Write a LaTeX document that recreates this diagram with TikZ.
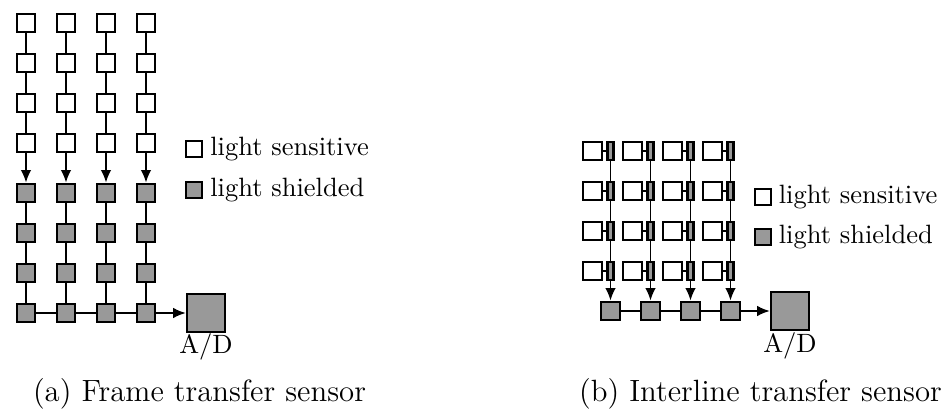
\documentclass[tikz,border=0pt]{standalone}
\usetikzlibrary{positioning,arrows.meta}

\tikzset{
  cell/.style={draw,line width=0.85pt,inner sep=0pt,minimum size=7.5pt},
  sensitive/.style={cell,fill=white},
  shielded/.style={cell,fill=black!40},
  slim/.style={shielded,minimum width=2.4pt,minimum height=7.5pt},
  wide/.style={sensitive,minimum width=7.8pt,minimum height=7.5pt},
  converter/.style={shielded,minimum size=15.4pt},
  keybox/.style={cell,minimum size=6.4pt},
  keytext/.style={anchor=west,inner sep=0pt,font=\fontsize{10.6pt}{12pt}\selectfont},
  captiontext/.style={inner sep=0pt,font=\fontsize{12.3pt}{15pt}\selectfont},
  chargeflow/.style={-{Latex[length=5pt,width=4.2pt]}},
  wire/.style={line width=0.6pt}
}

\begin{document}
\begin{tikzpicture}[x=0.4pt,y=-0.4pt,wire]
\useasboundingbox (0,0) rectangle (941,412);

% (a) frame transfer: four columns of eight cells
\newcommand{\ftcolumn}[2]{
\node[sensitive] (a#1r1) at (#2,23) {};
\node[sensitive] (a#1r2) at (#2,63) {};
\node[sensitive] (a#1r3) at (#2,103) {};
\node[sensitive] (a#1r4) at (#2,143) {};
\node[shielded] (a#1r5) at (#2,193) {};
\node[shielded] (a#1r6) at (#2,233) {};
\node[shielded] (a#1r7) at (#2,273) {};
\node[shielded] (a#1r8) at (#2,313) {};
\draw (a#1r1) -- (a#1r2);
\draw (a#1r2) -- (a#1r3);
\draw (a#1r3) -- (a#1r4);
\draw[chargeflow] (a#1r4) -- (a#1r5);
\draw (a#1r5) -- (a#1r6);
\draw (a#1r6) -- (a#1r7);
\draw (a#1r7) -- (a#1r8);
}

\ftcolumn{1}{26}
\ftcolumn{2}{66}
\ftcolumn{3}{106}
\ftcolumn{4}{146}

\node[converter] (adA) at (206,313) {};
\node[font=\fontsize{10.6pt}{12pt}\selectfont] (adAlabel) at (206,347) {A/D};
\draw (a1r8) -- (a2r8);
\draw (a2r8) -- (a3r8);
\draw (a3r8) -- (a4r8);
\draw[chargeflow] (a4r8) -- (adA);

\node[keybox,fill=white] (keyAs) at (194,149) {};
\node[keybox,fill=black!40] (keyAh) at (194,190) {};
\node[keytext,right=2.6pt of keyAs] (keyAstext) {light sensitive};
\node[keytext,right=2.6pt of keyAh] (keyAhtext) {light shielded};

\node[captiontext] (capA) at (199.5,394) {(a) Frame transfer sensor};

% (b) interline transfer: pixel + shielded strip per site
\newcommand{\itcolumn}[3]{
\node[wide] (b#1w1) at (#2,151) {};
\node[wide] (b#1w2) at (#2,191) {};
\node[wide] (b#1w3) at (#2,231) {};
\node[wide] (b#1w4) at (#2,271) {};
\node[slim] (b#1g1) at (#3,151) {};
\node[slim] (b#1g2) at (#3,191) {};
\node[slim] (b#1g3) at (#3,231) {};
\node[slim] (b#1g4) at (#3,271) {};
\node[shielded] (b#1s) at (#3,311) {};
\draw (b#1w1) -- (b#1g1);
\draw (b#1w2) -- (b#1g2);
\draw (b#1w3) -- (b#1g3);
\draw (b#1w4) -- (b#1g4);
\draw (b#1g1) -- (b#1g2);
\draw (b#1g2) -- (b#1g3);
\draw (b#1g3) -- (b#1g4);
\draw[chargeflow] (b#1g4) -- (b#1s);
}

\itcolumn{1}{592.5}{610.5}
\itcolumn{2}{632.5}{650.5}
\itcolumn{3}{672.5}{690.5}
\itcolumn{4}{712.5}{730.5}

\node[converter] (adB) at (790,311) {};
\node[font=\fontsize{10.6pt}{12pt}\selectfont] (adBlabel) at (790,346) {A/D};
\draw (b1s) -- (b2s);
\draw (b2s) -- (b3s);
\draw (b3s) -- (b4s);
\draw[chargeflow] (b4s) -- (adB);

\node[keybox,fill=white] (keyBs) at (763,197) {};
\node[keybox,fill=black!40] (keyBh) at (763,237) {};
\node[keytext,right=2.4pt of keyBs] (keyBstext) {light sensitive};
\node[keytext,right=2.4pt of keyBh] (keyBhtext) {light shielded};

\node[captiontext] (capB) at (760.5,394) {(b) Interline transfer sensor};
\end{tikzpicture}
\end{document}
